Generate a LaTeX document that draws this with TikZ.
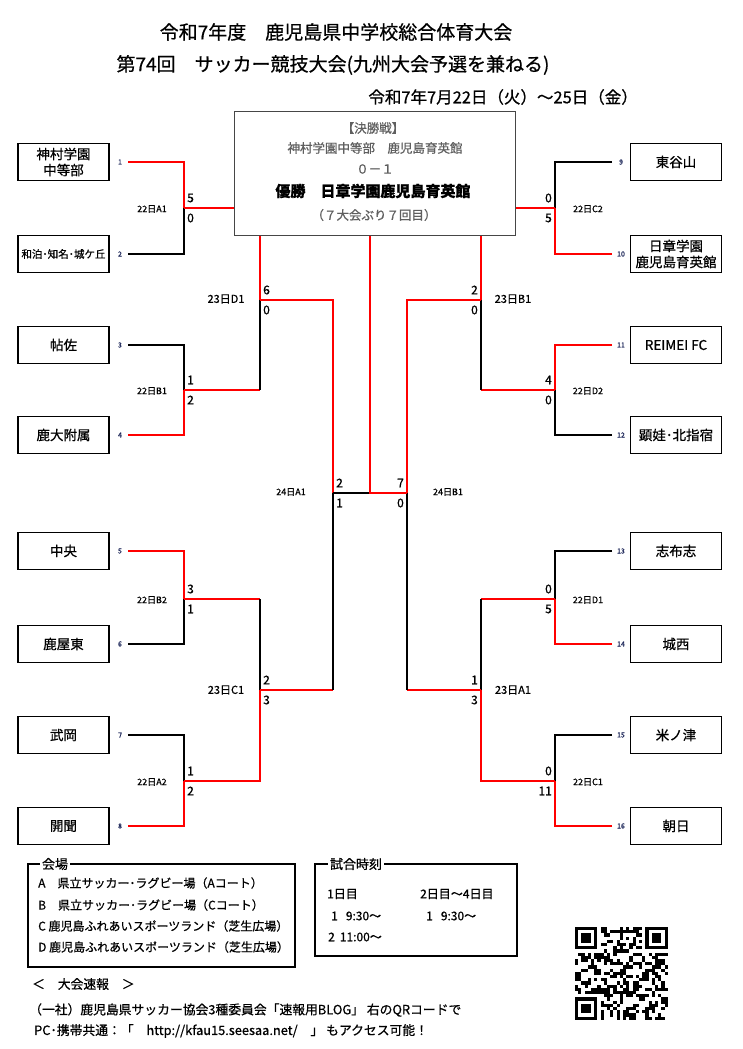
\documentclass[tikz,border=0pt]{standalone}
\usepackage{fontspec}
\setmainfont{Noto Sans CJK JP}[FakeBold=0.7]
\pgfdeclarelayer{bg}
\pgfsetlayers{bg,main}
\definecolor{fgray}{RGB}{70,70,70}
\definecolor{tgray}{RGB}{95,95,95}
\definecolor{numblue}{RGB}{30,40,90}
\begin{document}
\begin{tikzpicture}[x=1pt,y=-1pt,
  team/.style={draw, line width=1.8pt, minimum width=91pt, minimum height=37pt, inner sep=0pt, align=center, font=\fontsize{13.5}{16}\selectfont},
  num/.style={inner sep=0pt, text=numblue, font=\fontsize{7}{8}\selectfont},
  scl/.style={inner sep=0pt, anchor=west, font=\fontsize{12}{13}\selectfont},
  scr/.style={inner sep=0pt, anchor=east, font=\fontsize{12}{13}\selectfont},
  mlab/.style={inner sep=0pt, font=\fontsize{9}{10}\selectfont},
  mlabb/.style={inner sep=0pt, font=\fontsize{11}{12}\selectfont},
  win/.style={draw=red, line width=1.7pt},
  lose/.style={draw=black, line width=1.7pt},
  ftxt/.style={inner sep=0pt, text=tgray, font=\fontsize{12.5}{13}\selectfont},
  legline/.style={inner sep=0pt, anchor=west, font=\fontsize{12}{13}\selectfont},
  noteline/.style={inner sep=0pt, anchor=west, font=\fontsize{12.8}{14}\selectfont},
  legbox/.style={draw, line width=1.6pt, inner sep=0pt},
  legtitle/.style={fill=white, inner sep=2pt, font=\fontsize{13}{14}\selectfont},
  title/.style={inner sep=0pt, font=\fontsize{19}{21}\selectfont}
]
\useasboundingbox (0,0) rectangle (742,1049);

% titles
\node[title] (title1) at (336,32) {令和7年度　鹿児島県中学校総合体育大会};
\node[title] (title2) at (333,65) {第74回　サッカー競技大会(九州大会予選を兼ねる)};
\node[title, anchor=east, font=\fontsize{16.5}{19}\selectfont] (title3) at (638,97) {令和7年7月22日（火）～25日（金）};

% teams left
\node[team] (t1) at (63.5,162) {神村学園\\中等部};
\node[team] (t2) at (63.5,254) {\fontsize{10.5}{12}\selectfont 和泊･知名･城ケ丘};
\node[team] (t3) at (63.5,345) {帖佐};
\node[team] (t4) at (63.5,435) {鹿大附属};
\node[team] (t5) at (63.5,551) {中央};
\node[team] (t6) at (63.5,644) {鹿屋東};
\node[team] (t7) at (63.5,735) {武岡};
\node[team] (t8) at (63.5,826) {開聞};
% teams right
\node[team] (t9) at (676,162) {東谷山};
\node[team] (t10) at (676,254) {日章学園\\鹿児島育英館};
\node[team] (t11) at (676,345) {REIMEI FC};
\node[team] (t12) at (676,435) {顕娃･北指宿};
\node[team] (t13) at (676,551) {志布志};
\node[team] (t14) at (676,644) {城西};
\node[team] (t15) at (676,735) {米ノ津};
\node[team] (t16) at (676,826) {朝日};

% numbers
\foreach \k/\yy in {1/162,2/254,3/345,4/435,5/551,6/644,7/735,8/826}{
  \node[num] (n\k) at (120,\yy) {\k};
  \coordinate (s\k) at (128,\yy);
}
\foreach \k/\yy in {9/162,10/254,11/345,12/435,13/551,14/644,15/735,16/826}{
  \node[num] (n\k) at (621,\yy) {\k};
  \coordinate (s\k) at (612,\yy);
}

% junctions
\coordinate (L1) at (184,208);
\coordinate (L2) at (184,390);
\coordinate (L3) at (184,599);
\coordinate (L4) at (184,781);
\coordinate (L5) at (260,300);
\coordinate (L6) at (260,690);
\coordinate (L7) at (333,493);
\coordinate (F)  at (370,493);
\coordinate (R1) at (555,208);
\coordinate (R2) at (555,390);
\coordinate (R3) at (555,599);
\coordinate (R4) at (555,781);
\coordinate (R5) at (481,300);
\coordinate (R6) at (481,690);
\coordinate (R7) at (407,493);

% final box
\node[draw=fgray, line width=1.5pt, fill=white, minimum width=281pt, minimum height=124pt, inner sep=0pt] (fbox) at (375,173.5) {};
\node[ftxt] (fb1) at (373,128) {【決勝戦】};
\node[ftxt] (fb2) at (375,148) {神村学園中等部　鹿児島育英館};
\node[ftxt] (fb3) at (375,169) {０－１};
\node[inner sep=0pt, font=\fontsize{15}{16}\selectfont\bfseries] (fb4) at (373,191) {優勝　日章学園鹿児島育英館};
\node[ftxt] (fb5) at (374,215) {（７大会ぶり７回目）};

% connectors (behind box)
\begin{pgfonlayer}{bg}
\draw[win]  (s1) -| (L1);
\draw[lose] (s2) -| (L1);
\draw[lose] (s3) -| (L2);
\draw[win]  (s4) -| (L2);
\draw[win]  (s5) -| (L3);
\draw[lose] (s6) -| (L3);
\draw[lose] (s7) -| (L4);
\draw[win]  (s8) -| (L4);
\draw[win]  (L1) -| (L5);
\draw[win]  (L2) -- (L2 -| L5);
\draw[lose] (L2 -| L5) -- (L5);
\draw[win]  (L3) -- (L3 -| L6);
\draw[lose] (L3 -| L6) -- (L6);
\draw[win]  (L4) -| (L6);
\draw[win]  (L5) -| (L7);
\draw[win]  (L6) -- (L6 -| L7);
\draw[lose] (L6 -| L7) -- (L7);
\draw[lose] (L7) -- (F);

\draw[lose] (s9) -| (R1);
\draw[win]  (s10) -| (R1);
\draw[win]  (s11) -| (R2);
\draw[lose] (s12) -| (R2);
\draw[lose] (s13) -| (R3);
\draw[win]  (s14) -| (R3);
\draw[lose] (s15) -| (R4);
\draw[win]  (s16) -| (R4);
\draw[win]  (R1) -| (R5);
\draw[win]  (R2) -- (R2 -| R5);
\draw[lose] (R2 -| R5) -- (R5);
\draw[win]  (R3) -- (R3 -| R6);
\draw[lose] (R3 -| R6) -- (R6);
\draw[win]  (R4) -| (R6);
\draw[win]  (R5) -| (R7);
\draw[win]  (R6) -- (R6 -| R7);
\draw[lose] (R6 -| R7) -- (R7);
\draw[win]  (R7) -- (F) -- (F |- fbox.south);
\end{pgfonlayer}

% scores left
\node[scl] (sL1a) at (187,198) {5}; \node[scl] (sL1b) at (187,218) {0};
\node[scl] (sL2a) at (187,380) {1}; \node[scl] (sL2b) at (187,400) {2};
\node[scl] (sL3a) at (187,589) {3}; \node[scl] (sL3b) at (187,609) {1};
\node[scl] (sL4a) at (187,771) {1}; \node[scl] (sL4b) at (187,791) {2};
\node[scl] (sL5a) at (263,290) {6}; \node[scl] (sL5b) at (263,310) {0};
\node[scl] (sL6a) at (263,680) {2}; \node[scl] (sL6b) at (263,700) {3};
\node[scl] (sL7a) at (336,483) {2}; \node[scl] (sL7b) at (336,503) {1};
% scores right
\node[scr] (sR1a) at (552,198) {0}; \node[scr] (sR1b) at (552,218) {5};
\node[scr] (sR2a) at (552,380) {4}; \node[scr] (sR2b) at (552,400) {0};
\node[scr] (sR3a) at (552,589) {0}; \node[scr] (sR3b) at (552,609) {5};
\node[scr] (sR4a) at (552,771) {0}; \node[scr] (sR4b) at (552,791) {11};
\node[scr] (sR5a) at (478,290) {2}; \node[scr] (sR5b) at (478,310) {0};
\node[scr] (sR6a) at (478,680) {1}; \node[scr] (sR6b) at (478,700) {3};
\node[scr] (sR7a) at (404,483) {7}; \node[scr] (sR7b) at (404,503) {0};

% match labels
\node[mlab] (mL1) at (152,209) {22日A1};
\node[mlab] (mL2) at (152,391) {22日B1};
\node[mlab] (mL3) at (152,600) {22日B2};
\node[mlab] (mL4) at (152,782) {22日A2};
\node[mlabb] (mL5) at (226,299) {23日D1};
\node[mlabb] (mL6) at (226,690) {23日C1};
\node[mlab] (mL7) at (291,492) {24日A1};
\node[mlab] (mR1) at (588,209) {22日C2};
\node[mlab] (mR2) at (588,391) {22日D2};
\node[mlab] (mR3) at (588,600) {22日D1};
\node[mlab] (mR4) at (588,782) {22日C1};
\node[mlabb] (mR5) at (513,299) {23日B1};
\node[mlabb] (mR6) at (513,690) {23日A1};
\node[mlab] (mR7) at (448,492) {24日B1};

% venue legend
\node[legbox, minimum width=267pt, minimum height=103pt] (venue) at (161.5,915.5) {};
\node[legtitle] (venuet) at (55,864) {会場};
\node[legline] (v1) at (38,883) {A　県立サッカー･ラグビー場（Aコート）};
\node[legline] (v2) at (38,905) {B　県立サッカー･ラグビー場（Cコート）};
\node[legline] (v3) at (38,926) {C 鹿児島ふれあいスポーツランド（芝生広場）};
\node[legline] (v4) at (38,947) {D 鹿児島ふれあいスポーツランド（芝生広場）};

% time legend
\node[legbox, minimum width=202pt, minimum height=92pt] (times) at (416,910) {};
\node[legtitle] (timest) at (356,864) {試合時刻};
\node[legline] (tm1) at (327,894) {1日目};
\node[legline] (tm2) at (420,894) {2日目～4日目};
\node[legline] (tm3) at (331,916) {1\hspace{8pt}9:30～};
\node[legline] (tm4) at (426,916) {1\hspace{8pt}9:30～};
\node[legline] (tm5) at (328,937) {2\hspace{5pt}11:00～};

% bottom notes
\node[noteline] (bn1) at (32,984) {＜　大会速報　＞};
\node[noteline] (bn2) at (29,1010) {（一社）鹿児島県サッカー協会3種委員会「速報用BLOG」 右のQRコードで};
\node[noteline] (bn3) at (34,1031) {PC･携帯共通：「　http://kfau15.seesaa.net/　」 もアクセス可能！};

% QR code
\pgfmathsetseed{20250722}
\foreach \i in {0,...,28}{
  \foreach \j in {0,...,28}{
    \pgfmathtruncatemacro{\qrin}{((\i<8)&&(\j<8))||((\i<8)&&(\j>20))||((\i>20)&&(\j<8)) ? 1 : 0}
    \ifnum\qrin=0
      \pgfmathrandominteger{\qrbit}{0}{1}
      \ifnum\qrbit=1
        \fill ({575+\i*3.2},{927+\j*3.2}) rectangle ++(3.25,3.25);
      \fi
    \fi
  }
}
\foreach \ox/\oy in {575/927, 645.4/927, 575/997.4}{
  \fill (\ox,\oy) rectangle ++(22.4,22.4);
  \fill[white] ({\ox+3.2},{\oy+3.2}) rectangle ++(16,16);
  \fill ({\ox+6.4},{\oy+6.4}) rectangle ++(9.6,9.6);
}
\end{tikzpicture}
\end{document}
